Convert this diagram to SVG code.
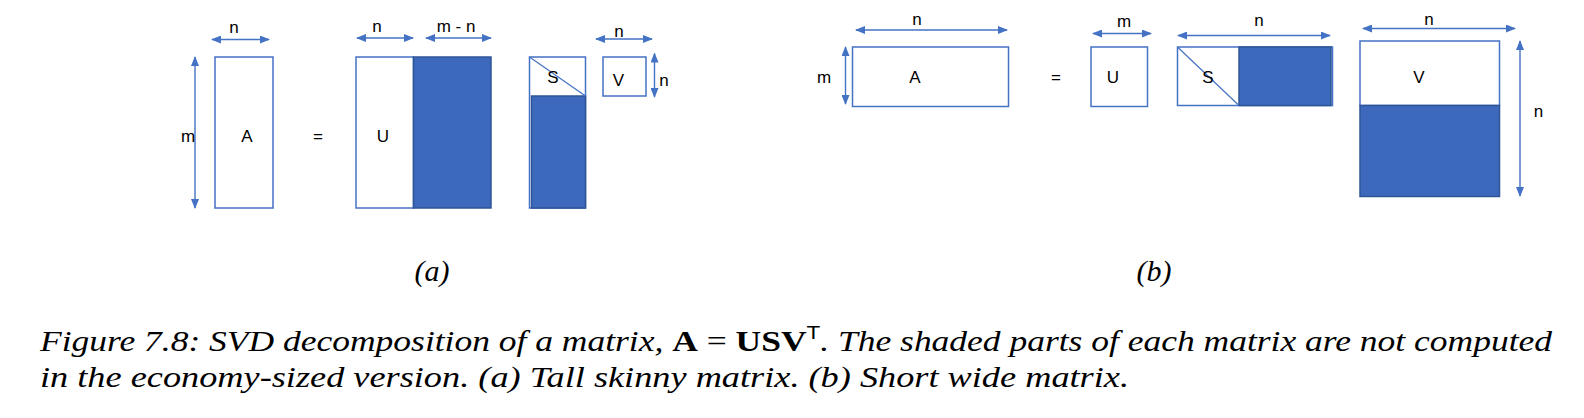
<svg xmlns="http://www.w3.org/2000/svg" width="1584" height="418" viewBox="0 0 1584 418">
<style>
.box{fill:#ffffff;stroke:#4472C4;stroke-width:1.5}
.shade{fill:#3C69BC;stroke:#2F5597;stroke-width:1.5}
.diag{stroke:#4472C4;stroke-width:1.2;fill:none}
.arr{stroke:#4472C4;stroke-width:1.4;fill:none;marker-start:url(#ah);marker-end:url(#ah)}
.lbl{font-family:"Liberation Sans",Arial,sans-serif;font-size:17px;fill:#000;text-anchor:middle}
.sub{font-family:"Liberation Serif","Times New Roman",serif;font-style:italic;font-size:30px;fill:#000;text-anchor:middle}
.cap{font-family:"Liberation Serif","Times New Roman",serif;font-style:italic;font-size:30px;fill:#000}
.bf{font-style:normal;font-weight:bold}
.rm{font-style:normal}
.sup{font-family:"Liberation Sans",Arial,sans-serif;font-style:normal;font-size:19px}
</style>
<defs>
<marker id="ah" markerUnits="userSpaceOnUse" markerWidth="10" markerHeight="8" viewBox="0 0 10 8" refX="9" refY="4" orient="auto-start-reverse">
<path d="M0,0 L10,4 L0,8 Z" fill="#4472C4"/>
</marker>
</defs>

<!-- Panel (a) -->
<g id="a-A">
<rect class="box" x="215" y="57" width="58" height="151"/>
<text class="lbl" x="247" y="142">A</text>
</g>
<g id="a-eq"><text class="lbl" x="318" y="142">=</text></g>
<g id="a-U">
<rect class="box" x="356" y="57" width="57.5" height="151"/>
<rect class="shade" x="413.5" y="57" width="77.5" height="151"/>
<text class="lbl" x="383" y="142">U</text>
</g>
<g id="a-S">
<rect class="box" x="529.5" y="57" width="56" height="151"/>
<rect class="shade" x="531.5" y="96" width="54" height="112"/>
<line class="diag" x1="529.5" y1="57" x2="585.5" y2="96"/>
<text class="lbl" x="553" y="83">S</text>
</g>
<g id="a-V">
<rect class="box" x="603" y="57" width="43" height="39"/>
<text class="lbl" x="618.5" y="86">V</text>
</g>

<!-- Panel (b) -->
<g id="b-A">
<rect class="box" x="852.5" y="47" width="156" height="59.5"/>
<text class="lbl" x="915" y="83">A</text>
</g>
<g id="b-eq"><text class="lbl" x="1056" y="83">=</text></g>
<g id="b-U">
<rect class="box" x="1091" y="47" width="56.5" height="59.5"/>
<text class="lbl" x="1113" y="83">U</text>
</g>
<g id="b-S">
<rect class="box" x="1177.5" y="47" width="155" height="58.5"/>
<rect class="shade" x="1239" y="47" width="92" height="58.5"/>
<line class="diag" x1="1177.5" y1="47" x2="1239" y2="105.5"/>
<text class="lbl" x="1208" y="83">S</text>
</g>
<g id="b-V">
<rect class="box" x="1360" y="41" width="139.5" height="64.5"/>
<rect class="shade" x="1360" y="105.5" width="139.5" height="91"/>
<text class="lbl" x="1419" y="83">V</text>
</g>

<!-- Dimension connectors -->
<g id="connectors">
<line class="arr" x1="212" y1="39.5" x2="269" y2="39.5"/>
<line class="arr" x1="195" y1="57" x2="195" y2="208"/>
<line class="arr" x1="357" y1="38" x2="413" y2="38"/>
<line class="arr" x1="426" y1="38" x2="491" y2="38"/>
<line class="arr" x1="596" y1="39" x2="652" y2="39"/>
<line class="arr" x1="654.5" y1="53.5" x2="654.5" y2="97"/>
<line class="arr" x1="856" y1="30" x2="1007" y2="30"/>
<line class="arr" x1="845.5" y1="47" x2="845.5" y2="104"/>
<line class="arr" x1="1093" y1="33.5" x2="1151" y2="33.5"/>
<line class="arr" x1="1178" y1="35.5" x2="1330" y2="35.5"/>
<line class="arr" x1="1363" y1="28.5" x2="1515" y2="28.5"/>
<line class="arr" x1="1520" y1="41" x2="1520" y2="196"/>
</g>

<!-- Dimension labels -->
<g id="dim-labels">
<text class="lbl" x="234" y="33">n</text>
<text class="lbl" x="188" y="142">m</text>
<text class="lbl" x="377" y="32">n</text>
<text class="lbl" x="456" y="32">m - n</text>
<text class="lbl" x="619" y="36.5">n</text>
<text class="lbl" x="664" y="86">n</text>
<text class="lbl" x="917" y="25">n</text>
<text class="lbl" x="824" y="83">m</text>
<text class="lbl" x="1124" y="27">m</text>
<text class="lbl" x="1259" y="26">n</text>
<text class="lbl" x="1429" y="25">n</text>
<text class="lbl" x="1538.5" y="117">n</text>
</g>

<!-- Subfigure labels -->
<text class="sub" x="432" y="281">(a)</text>
<text class="sub" x="1154" y="281">(b)</text>

<!-- Caption -->
<text class="cap" x="40" y="350.5" textLength="1512" lengthAdjust="spacingAndGlyphs">Figure 7.8: SVD decomposition of a matrix, <tspan class="bf">A</tspan><tspan class="rm"> = </tspan><tspan class="bf">USV</tspan><tspan class="sup" dy="-12">T</tspan><tspan dy="12">. The shaded parts of each matrix are not computed</tspan></text>
<text class="cap" x="40" y="386.5" textLength="1089" lengthAdjust="spacingAndGlyphs">in the economy-sized version. (a) Tall skinny matrix. (b) Short wide matrix.</text>
</svg>
